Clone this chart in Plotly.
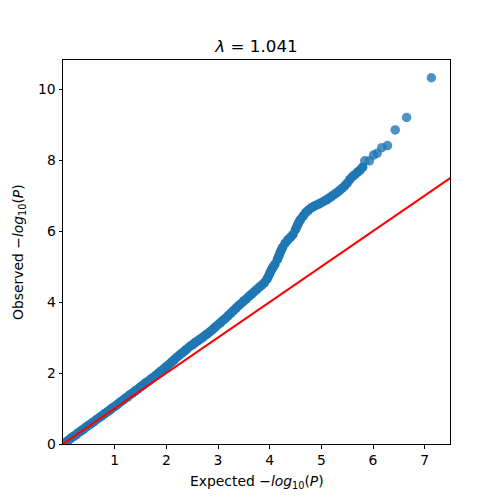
import plotly.graph_objects as go

# Expected vs observed -log10(P), dense part of the QQ curve
expected_dense = [0.00, 0.05, 0.10, 0.15, 0.20, 0.25, 0.30, 0.35, 0.40, 0.45,
                  0.50, 0.55, 0.60, 0.65, 0.70, 0.75, 0.80, 0.85, 0.90, 0.95,
                  1.00, 1.05, 1.10, 1.15, 1.20, 1.25, 1.30, 1.35, 1.40, 1.45,
                  1.50, 1.55, 1.60, 1.65, 1.70, 1.75, 1.80, 1.85, 1.90, 1.95,
                  2.00, 2.05, 2.10, 2.15, 2.20, 2.25, 2.30, 2.35, 2.40, 2.45,
                  2.50, 2.55, 2.60, 2.65, 2.70, 2.75, 2.80, 2.85, 2.90, 2.95,
                  3.00, 3.05, 3.10, 3.15, 3.20, 3.25, 3.30, 3.35, 3.40, 3.45,
                  3.50, 3.55, 3.60, 3.65, 3.70, 3.75, 3.80, 3.85, 3.90, 3.95,
                  3.975, 4.00, 4.025, 4.05, 4.075, 4.10, 4.15, 4.175, 4.20, 4.225,
                  4.25, 4.30, 4.35, 4.40, 4.45, 4.50, 4.525, 4.55, 4.575, 4.60,
                  4.65, 4.70, 4.75, 4.80, 4.85, 4.90, 4.95, 5.00, 5.05, 5.10,
                  5.15, 5.20, 5.25, 5.30, 5.35, 5.40, 5.45, 5.50, 5.55, 5.60,
                  5.65, 5.70, 5.75, 5.80]
observed_dense = [0.00, 0.05, 0.10, 0.16, 0.21, 0.26, 0.32, 0.37, 0.42, 0.48,
                  0.53, 0.58, 0.63, 0.69, 0.74, 0.79, 0.85, 0.90, 0.95, 1.01,
                  1.06, 1.11, 1.17, 1.22, 1.28, 1.33, 1.39, 1.44, 1.50, 1.55,
                  1.61, 1.66, 1.72, 1.77, 1.83, 1.88, 1.94, 2.00, 2.06, 2.12,
                  2.18, 2.24, 2.31, 2.37, 2.44, 2.50, 2.56, 2.62, 2.68, 2.74,
                  2.79, 2.85, 2.90, 2.95, 3.00, 3.06, 3.11, 3.17, 3.23, 3.30,
                  3.36, 3.42, 3.49, 3.55, 3.62, 3.69, 3.76, 3.83, 3.90, 3.96,
                  4.03, 4.09, 4.16, 4.22, 4.29, 4.35, 4.42, 4.48, 4.55, 4.65,
                  4.72, 4.80, 4.88, 4.95, 5.00, 5.06, 5.20, 5.29, 5.38, 5.46,
                  5.54, 5.66, 5.75, 5.82, 5.90, 6.04, 6.12, 6.20, 6.27, 6.33,
                  6.43, 6.52, 6.59, 6.65, 6.69, 6.73, 6.76, 6.80, 6.84, 6.88,
                  6.93, 6.98, 7.03, 7.08, 7.14, 7.20, 7.27, 7.35, 7.45, 7.53,
                  7.59, 7.66, 7.72, 7.80]

# Sparse tail points (most significant)
expected_tail = [5.84, 5.93, 6.01, 6.08, 6.17, 6.28, 6.43, 6.65, 7.13]
observed_tail = [7.98, 7.98, 8.14, 8.19, 8.35, 8.41, 8.85, 9.20, 10.32]

# Null expectation line y = x
null_x = [0.0, 7.5]
null_y = [0.0, 7.5]

lambda_gc = "1.041"

x_ticks = [1, 2, 3, 4, 5, 6, 7]
y_ticks = [0, 2, 4, 6, 8, 10]

BLUE = "#1f77b4"
FONT = "DejaVu Sans"

fig = go.Figure()
fig.add_trace(go.Scatter(
    x=expected_dense, y=observed_dense, mode="markers",
    marker=dict(size=9.5, color=BLUE, opacity=1.0, line=dict(width=0)),
    showlegend=False, hoverinfo="skip"))
fig.add_trace(go.Scatter(
    x=expected_tail, y=observed_tail, mode="markers",
    marker=dict(size=9.5, color=BLUE, opacity=0.8, line=dict(width=0)),
    showlegend=False, hoverinfo="skip"))
fig.add_trace(go.Scatter(
    x=null_x, y=null_y, mode="lines",
    line=dict(color="red", width=2),
    showlegend=False, hoverinfo="skip"))

axis_common = dict(
    showgrid=False, zeroline=False,
    showline=True, linecolor="black", linewidth=1, mirror=True,
    ticks="outside", ticklen=3.5, tickwidth=0.8, tickcolor="black",
    tickfont=dict(family=FONT, size=13.9, color="black"),
)

fig.update_layout(
    width=500, height=500,
    margin=dict(l=63, r=50, t=60, b=56),
    paper_bgcolor="white", plot_bgcolor="white",
    font=dict(family=FONT, color="black"),
    title=dict(text="<i>λ</i> = " + lambda_gc,
               x=0.5, xref="paper", xanchor="center",
               y=1 - 46 / 500, yref="container", yanchor="middle",
               font=dict(family=FONT, size=16.7, color="black")),
    xaxis=dict(range=[0, 7.49], tickvals=x_ticks,
               ticktext=[str(t) for t in x_ticks], **axis_common),
    yaxis=dict(range=[0, 10.82], tickvals=y_ticks,
               ticktext=[str(t) for t in y_ticks], **axis_common),
    annotations=[
        dict(text="Expected −<i>log</i><sub>10</sub>(<i>P</i>)",
             x=0.5, y=-(482 - 444) / 384, xref="paper", yref="paper",
             xanchor="center", yanchor="middle", showarrow=False,
             font=dict(family=FONT, size=13.9, color="black")),
        dict(text="Observed −<i>log</i><sub>10</sub>(<i>P</i>)",
             x=-(63 - 19) / 387, y=0.5, xref="paper", yref="paper",
             xanchor="center", yanchor="middle", showarrow=False, textangle=-90,
             font=dict(family=FONT, size=13.9, color="black")),
    ],
)

fig.write_html("out.html")
